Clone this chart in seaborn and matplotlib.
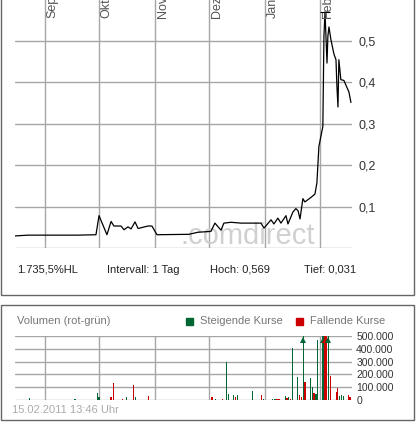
import matplotlib
matplotlib.use('Agg')
import matplotlib.pyplot as plt
import seaborn as sns
import numpy as np
import pandas as pd
from matplotlib.patches import Rectangle

# price series: days since 2010-09-01, price in EUR
price_days = [-17.2, -9.4, 18.3, 28.3, 30.0, 34.4, 36.7, 38.3, 42.2, 43.9, 46.1, 47.8, 50.0,
              51.7, 57.2, 59.4, 62.2, 80.0, 85.0, 92.2, 94.4, 97.8, 99.4, 103.3, 108.9, 120.0,
              121.7, 125.6, 127.2, 129.4, 131.1, 133.9, 135.0, 137.8, 139.4, 140.6, 141.7,
              143.3, 144.4, 147.8, 150.0, 151.1, 152.2, 154.4, 155.0, 155.6, 156.7, 157.2,
              157.8, 158.9, 160.6, 161.7, 162.2, 162.8, 163.3, 164.4, 166.1, 168.9, 170.0]
price_vals = [0.029, 0.031, 0.031, 0.032, 0.078, 0.032, 0.064, 0.053, 0.053, 0.044, 0.051,
              0.046, 0.063, 0.047, 0.053, 0.053, 0.032, 0.033, 0.038, 0.040, 0.060, 0.043,
              0.060, 0.062, 0.060, 0.060, 0.048, 0.068, 0.058, 0.072, 0.060, 0.078, 0.058,
              0.087, 0.095, 0.090, 0.070, 0.119, 0.111, 0.122, 0.130, 0.157, 0.245, 0.293,
              0.511, 0.569, 0.446, 0.511, 0.533, 0.502, 0.467, 0.454, 0.392, 0.340, 0.454,
              0.406, 0.404, 0.376, 0.351]

# volume bars: day, volume, direction (g = rising, r = falling); 600000 = clipped
vol_days = [-8.7, 16.7, 29.3, 30.0, 36.7, 38.0, 43.1, 45.2, 49.3, 50.2, 57.6, 92.8, 94.6,
            98.5, 100.7, 101.9, 104.6, 105.7, 106.9, 115.2, 120.2, 121.3, 126.5, 127.8,
            128.9, 130.0, 133.5, 134.4, 135.2, 136.3, 137.6, 140.2, 141.3, 142.4, 143.5,
            144.6, 147.4, 148.5, 149.6, 150.7, 151.3, 154.6, 155.2, 155.7, 156.3, 157.4,
            158.5, 162.0, 162.6, 163.7, 164.8, 165.9, 168.7, 169.6]
vol_vals = [16000, 5000, 53000, 26000, 21000, 132000, 5000, 21000, 116000, 21000, 32000,
            21000, 5000, 5000, 300000, 47000, 37000, 26000, 37000, 68000, 37000, 5000,
            10000, 10000, 5000, 5000, 32000, 16000, 26000, 5000, 410000, 179000, 37000,
            26000, 600000, 142000, 168000, 105000, 58000, 47000, 468000, 600000, 600000,
            600000, 600000, 600000, 189000, 63000, 95000, 32000, 42000, 32000, 42000, 21000]
vol_dir = ['g', 'g', 'g', 'g', 'r', 'r', 'r', 'g', 'r', 'g', 'r', 'r', 'g', 'r', 'g', 'g',
           'g', 'r', 'g', 'g', 'r', 'g', 'g', 'g', 'r', 'r', 'g', 'r', 'g', 'r', 'g', 'g',
           'r', 'r', 'g', 'r', 'g', 'g', 'r', 'g', 'g', 'g', 'g', 'r', 'r', 'g', 'r', 'r',
           'r', 'g', 'g', 'g', 'r', 'r']

month_days = [0, 30, 61, 91, 122, 153]
month_labels = ['Sep', 'Okt', 'Nov', 'Dez', 'Jan', 'Feb']
price_ticks = [0.1, 0.2, 0.3, 0.4, 0.5]
vol_ticks = [0, 100000, 200000, 300000, 400000, 500000]

GREEN = '#006633'
RED = '#cc0000'
GRID = '#a6a6a6'
TXT = '#333333'
X0, X1 = -16.7, 170.6

sns.set_style('white')
plt.rcParams['font.family'] = ['Liberation Sans', 'DejaVu Sans']

W, H = 417, 425
fig = plt.figure(figsize=(W / 100, H / 100), dpi=100)

def fr(x, y, w, h):
    return [x / W, 1 - (y + h) / H, w / W, h / H]

# panel frames
fig.patches.append(Rectangle((0.5 / W, 1 - 295 / H), 413 / W, 300 / H, transform=fig.transFigure,
                             fill=False, ec='#666666', lw=1))
fig.patches.append(Rectangle((0.5 / W, 1 - 420 / H), 413 / W, 115 / H, transform=fig.transFigure,
                             fill=False, ec='#666666', lw=1))

# price chart
ax = fig.add_axes(fr(15, 0, 337, 248))
df = pd.DataFrame({'day': price_days, 'price': price_vals})
sns.lineplot(data=df, x='day', y='price', ax=ax, color='black', lw=0.9, sort=False)
ax.plot([price_days[45]], [price_vals[45]], marker='_', color='black', ms=7, mew=0.8)
ax.set_xlim(X0, X1)
ax.set_ylim(0, 0.598)
for d in month_days:
    ax.axvline(d, color=GRID, lw=1, zorder=0)
for v in price_ticks + [0]:
    ax.axhline(v, color=GRID, lw=1, zorder=0)
for d, lab in zip(month_days, month_labels):
    ax.text(d + 1.0, 0.927, lab, transform=ax.get_xaxis_transform(), rotation=90,
            ha='left', va='bottom', fontsize=9, color='#555555', clip_on=False)
ax.text(150, 0.03, '.comdirect', ha='right', va='center', fontsize=21, color='#d0d0d0',
        zorder=0)
for s in ax.spines.values():
    s.set_visible(False)
ax.set_xticks([])
ax.yaxis.tick_right()
ax.set_yticks(price_ticks)
ax.set_yticklabels([f'{v:.1f}'.replace('.', ',') for v in price_ticks], fontsize=9, color=TXT)
ax.tick_params(axis='y', length=0, pad=5)
ax.set_xlabel('')
ax.set_ylabel('')

# info row
for x, s in [(17, '1.735,5%HL'), (107, 'Intervall: 1 Tag'), (210, 'Hoch: 0,569'),
             (304, 'Tief: 0,031')]:
    fig.text(x / W, 1 - 270 / H, s, fontsize=8, color='#222222', va='center')

# volume chart
vx = fig.add_axes(fr(15, 336, 337, 64))
cols = [GREEN if c == 'g' else RED for c in vol_dir]
vx.bar(vol_days, vol_vals, width=0.8, color=cols, linewidth=0, zorder=2)
for d, v, c in zip(vol_days, vol_vals, cols):
    if v > 500000:
        vx.plot([d], [470000], marker='^', color=c, ms=5, mew=0, clip_on=False, zorder=3)
vx.set_xlim(X0, X1)
vx.set_ylim(0, 500000)
for d in month_days:
    vx.axvline(d, color=GRID, lw=1, zorder=0)
for v in vol_ticks:
    vx.axhline(v, color=GRID, lw=1, zorder=0)
for s in vx.spines.values():
    s.set_visible(False)
vx.set_xticks([])
vx.yaxis.tick_right()
vx.set_yticks(vol_ticks)
vx.set_yticklabels([f'{v:,}'.replace(',', '.') for v in vol_ticks], fontsize=7.5, color=TXT)
vx.tick_params(axis='y', length=0, pad=3)

fig.text(17 / W, 1 - 321 / H, 'Volumen (rot-grün)', fontsize=8, color='#777777', va='center')
fig.patches.append(Rectangle((186 / W, 1 - 325 / H), 7 / W, 7 / H, transform=fig.transFigure,
                             color=GREEN))
fig.text(200 / W, 1 - 321 / H, 'Steigende Kurse', fontsize=8, color='#777777', va='center')
fig.patches.append(Rectangle((296 / W, 1 - 325 / H), 7 / W, 7 / H, transform=fig.transFigure,
                             color=RED))
fig.text(310 / W, 1 - 321 / H, 'Fallende Kurse', fontsize=8, color='#777777', va='center')
fig.text(12 / W, 1 - 410 / H, '15.02.2011 13:46 Uhr', fontsize=8, color='#aaaaaa', va='center')

fig.savefig('out.png', dpi=100)
